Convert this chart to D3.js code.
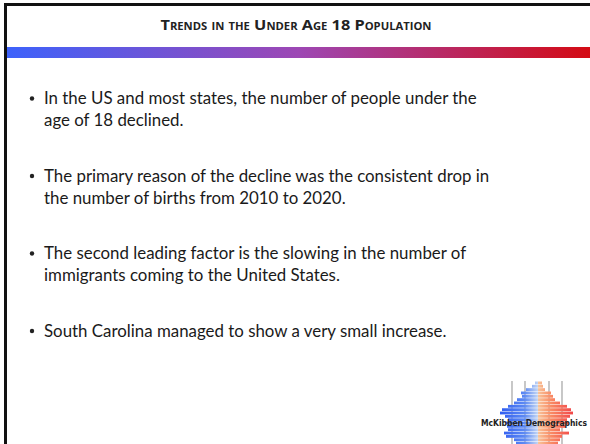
<!DOCTYPE html>
<html>
<head>
<meta charset="utf-8">
<script src="https://cdn.jsdelivr.net/npm/d3@7"></script>
<style>
  body { margin: 0; background: #fff; }
  svg { display: block; }
</style>
</head>
<body>
<svg width="590" height="444"></svg>
<script>
var title = "Trends in the Under Age 18 Population";

var bullets = [
    ["In the US and most states, the number of people under the", "age of 18 declined."],
    ["The primary reason of the decline was the consistent drop in", "the number of births from 2010 to 2020."],
    ["The second leading factor is the slowing in the number of", "immigrants coming to the United States."],
    ["South Carolina managed to show a very small increase."]
];

// logo pyramid, rough bar lengths per age row (top = oldest)
var logoLeft  = [3, 6, 12, 17, 16, 21, 24, 30, 36, 38, 33, 30, 32, 31, 30, 34, 32, 24, 22];
var logoRight = [4, 5, 7, 13, 15, 17, 22, 29, 33, 35, 32, 29, 30, 28, 22, 31, 24, 22, 20];
var logoText = "McKibben Demographics";

var svg = d3.select("svg");
var W = 590, H = 444;

var defs = svg.append("defs");
var hg = defs.append("linearGradient").attr("id", "hdr")
    .attr("x1", "0%").attr("x2", "100%");
hg.append("stop").attr("offset", "0%").attr("stop-color", "#3d62fb");
hg.append("stop").attr("offset", "50%").attr("stop-color", "#9d47b4");
hg.append("stop").attr("offset", "100%").attr("stop-color", "#d40b14");

// frame
svg.append("rect").attr("x", 4).attr("y", 3).attr("width", W - 4).attr("height", 3).attr("fill", "#111");
svg.append("rect").attr("x", 4).attr("y", 3).attr("width", 3).attr("height", H - 3).attr("fill", "#111");

// title
svg.append("text")
    .attr("x", 296).attr("y", 30)
    .attr("text-anchor", "middle")
    .style("font-family", "'Open Sans', Lato, sans-serif")
    .style("font-weight", "bold")
    .style("font-variant", "small-caps")
    .style("font-size", "14.5px")
    .attr("textLength", 271)
    .attr("lengthAdjust", "spacingAndGlyphs")
    .attr("fill", "#222")
    .text(title);

svg.append("rect").attr("x", 7).attr("y", 47).attr("width", W - 7).attr("height", 11).attr("fill", "url(#hdr)");

// bullets
var lineGap = 22.3, paraGap = 77.5, top0 = 104;
var g = svg.append("g");
bullets.forEach(function(p, i) {
    var y0 = top0 + i * paraGap;
    g.append("circle").attr("cx", 32).attr("cy", y0 - 5.5).attr("r", 2.2).attr("fill", "#222");
    p.forEach(function(line, j) {
        g.append("text")
            .attr("class", "bl")
            .attr("x", 44).attr("y", y0 + j * lineGap)
            .style("font-family", "Lato, sans-serif")
            .style("font-size", "17px")
            .attr("fill", "#1a1a1a")
            .text(line);
    });
});
// fit text width to the reference (first line ~433px)
var first = g.select("text.bl").node();
var scale = 433 / first.getComputedTextLength();
g.selectAll("text.bl").style("font-size", (17 * scale) + "px");

// logo
var cx = 538;
var rows = d3.scaleBand().domain(d3.range(logoLeft.length)).range([381, 445]).padding(0.15);
var len = d3.scaleLinear().domain([0, 38]).range([0, 38]);

var lg = defs.append("linearGradient").attr("id", "lb").attr("gradientUnits", "userSpaceOnUse")
    .attr("x1", cx - 38).attr("x2", cx);
lg.append("stop").attr("offset", "0%").attr("stop-color", "#2f5cf0");
lg.append("stop").attr("offset", "65%").attr("stop-color", "#5d8af3");
lg.append("stop").attr("offset", "100%").attr("stop-color", "#c4d6f4");
var rg = defs.append("linearGradient").attr("id", "rb").attr("gradientUnits", "userSpaceOnUse")
    .attr("x1", cx).attr("x2", cx + 38);
rg.append("stop").attr("offset", "0%").attr("stop-color", "#f8c49a");
rg.append("stop").attr("offset", "35%").attr("stop-color", "#f98a64");
rg.append("stop").attr("offset", "100%").attr("stop-color", "#f03d45");

var logo = svg.append("g");
logo.selectAll("line.grid").data([512, 525, 549, 562]).enter().append("line")
    .attr("x1", function(d) { return d; }).attr("x2", function(d) { return d; })
    .attr("y1", 381).attr("y2", H)
    .attr("stroke", "#aaa").attr("stroke-width", 1.3);
logo.selectAll("rect.l").data(logoLeft).enter().append("rect")
    .attr("x", function(d) { return cx - len(d); })
    .attr("y", function(d, i) { return rows(i); })
    .attr("width", function(d) { return len(d); })
    .attr("height", rows.bandwidth())
    .attr("fill", "url(#lb)");
logo.selectAll("rect.r").data(logoRight).enter().append("rect")
    .attr("x", cx)
    .attr("y", function(d, i) { return rows(i); })
    .attr("width", function(d) { return len(d); })
    .attr("height", rows.bandwidth())
    .attr("fill", "url(#rb)");
logo.append("text")
    .attr("x", 534).attr("y", 426)
    .attr("text-anchor", "middle")
    .style("font-family", "'DejaVu Sans', sans-serif")
    .style("font-weight", "bold")
    .style("font-size", "9.5px")
    .attr("textLength", 106)
    .attr("lengthAdjust", "spacingAndGlyphs")
    .attr("fill", "#222")
    .text(logoText);
</script>
</body>
</html>
